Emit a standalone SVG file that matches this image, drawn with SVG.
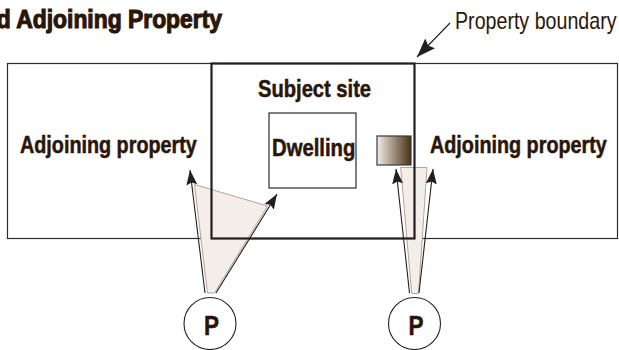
<svg xmlns="http://www.w3.org/2000/svg" width="619" height="350" viewBox="0 0 619 350">
<style>
text{font-family:"Liberation Sans",Arial,sans-serif;fill:#2a1608}
.b{font-weight:700;font-size:23px;stroke:#2a1608;stroke-width:.5}
.box{fill:none;stroke:#2b2b2b}
.cone{fill:#f3eeea;stroke:#b9a48f;stroke-width:1}
.ar{fill:none;stroke:#231f20;stroke-width:1.1;marker-end:url(#a)}
.c{fill:#fff;stroke:#231f20;stroke-width:1.1}
</style>
<defs>
<marker id="a" markerUnits="userSpaceOnUse" markerWidth="16" markerHeight="12" viewBox="0 0 16 12" refX="15" refY="6" orient="auto"><path d="M0 .5L15 6L0 11.5L2.5 6Z" fill="#231f20"/></marker>
<marker id="a2" markerUnits="userSpaceOnUse" markerWidth="20" markerHeight="14" viewBox="0 0 20 14" refX="19" refY="7" orient="auto"><path d="M0 0L19 7L0 14L3 7Z" fill="#231f20"/></marker>
<linearGradient id="g"><stop offset="0" stop-color="#f3eeea"/><stop offset="1" stop-color="#4a3014"/></linearGradient>
</defs>
<text id="title" transform="translate(222 28) scale(.85 1)" text-anchor="end" textLength="265" lengthAdjust="spacingAndGlyphs" style="font-weight:700;font-size:25px;stroke:#2a1608;stroke-width:1.1">d Adjoining Property</text>
<g id="adjoining"><rect class="box" x="7.5" y="63.5" width="610" height="175" stroke-width="1.2"/>
<text class="b" transform="translate(20 153) scale(.85 1)" textLength="208" lengthAdjust="spacingAndGlyphs">Adjoining property</text>
<text class="b" transform="translate(430 153) scale(.85 1)" textLength="208" lengthAdjust="spacingAndGlyphs">Adjoining property</text></g>
<g id="cones">
<path class="cone" d="M194.5 184.5L267.5 206L214.5 293H207.5Z"/>
<path class="cone" d="M400.7 167.5H427L418.5 293.5H411.7Z"/>
</g>
<g id="subject"><rect class="box" x="211.5" y="63.5" width="203" height="175" stroke-width="2.2" style="stroke:#231f20"/>
<text class="b" transform="translate(258 97) scale(.85 1)" textLength="133" lengthAdjust="spacingAndGlyphs">Subject site</text></g>
<g id="dwelling"><rect class="box" x="269" y="113" width="87" height="75" stroke-width="1.2"/>
<text class="b" transform="translate(272 156) scale(.85 1)" textLength="98" lengthAdjust="spacingAndGlyphs">Dwelling</text></g>
<rect id="fixture" x="377" y="136" width="34" height="29" fill="url(#g)" stroke="#3a3a3a" stroke-width="1.2"/>
<g id="connectors">
<path class="ar" d="M205 293L190 170"/>
<path class="ar" d="M216 293L277 194"/>
<path class="ar" d="M409.5 293L396 169"/>
<path class="ar" d="M419 293L433 169"/>
<path class="ar" style="marker-end:url(#a2)" d="M450 23L417 57"/>
</g>
<g id="p1"><circle class="c" cx="210" cy="323.5" r="26"/><text class="b" transform="translate(204 335)" style="font-size:27px" textLength="15" lengthAdjust="spacingAndGlyphs">P</text></g>
<g id="p2"><circle class="c" cx="414.5" cy="323.5" r="26"/><text class="b" transform="translate(408.5 335)" style="font-size:27px" textLength="15" lengthAdjust="spacingAndGlyphs">P</text></g>
<text id="boundary" transform="translate(455 29) scale(.85 1)" font-size="23" textLength="190" lengthAdjust="spacingAndGlyphs">Property boundary</text>
</svg>
